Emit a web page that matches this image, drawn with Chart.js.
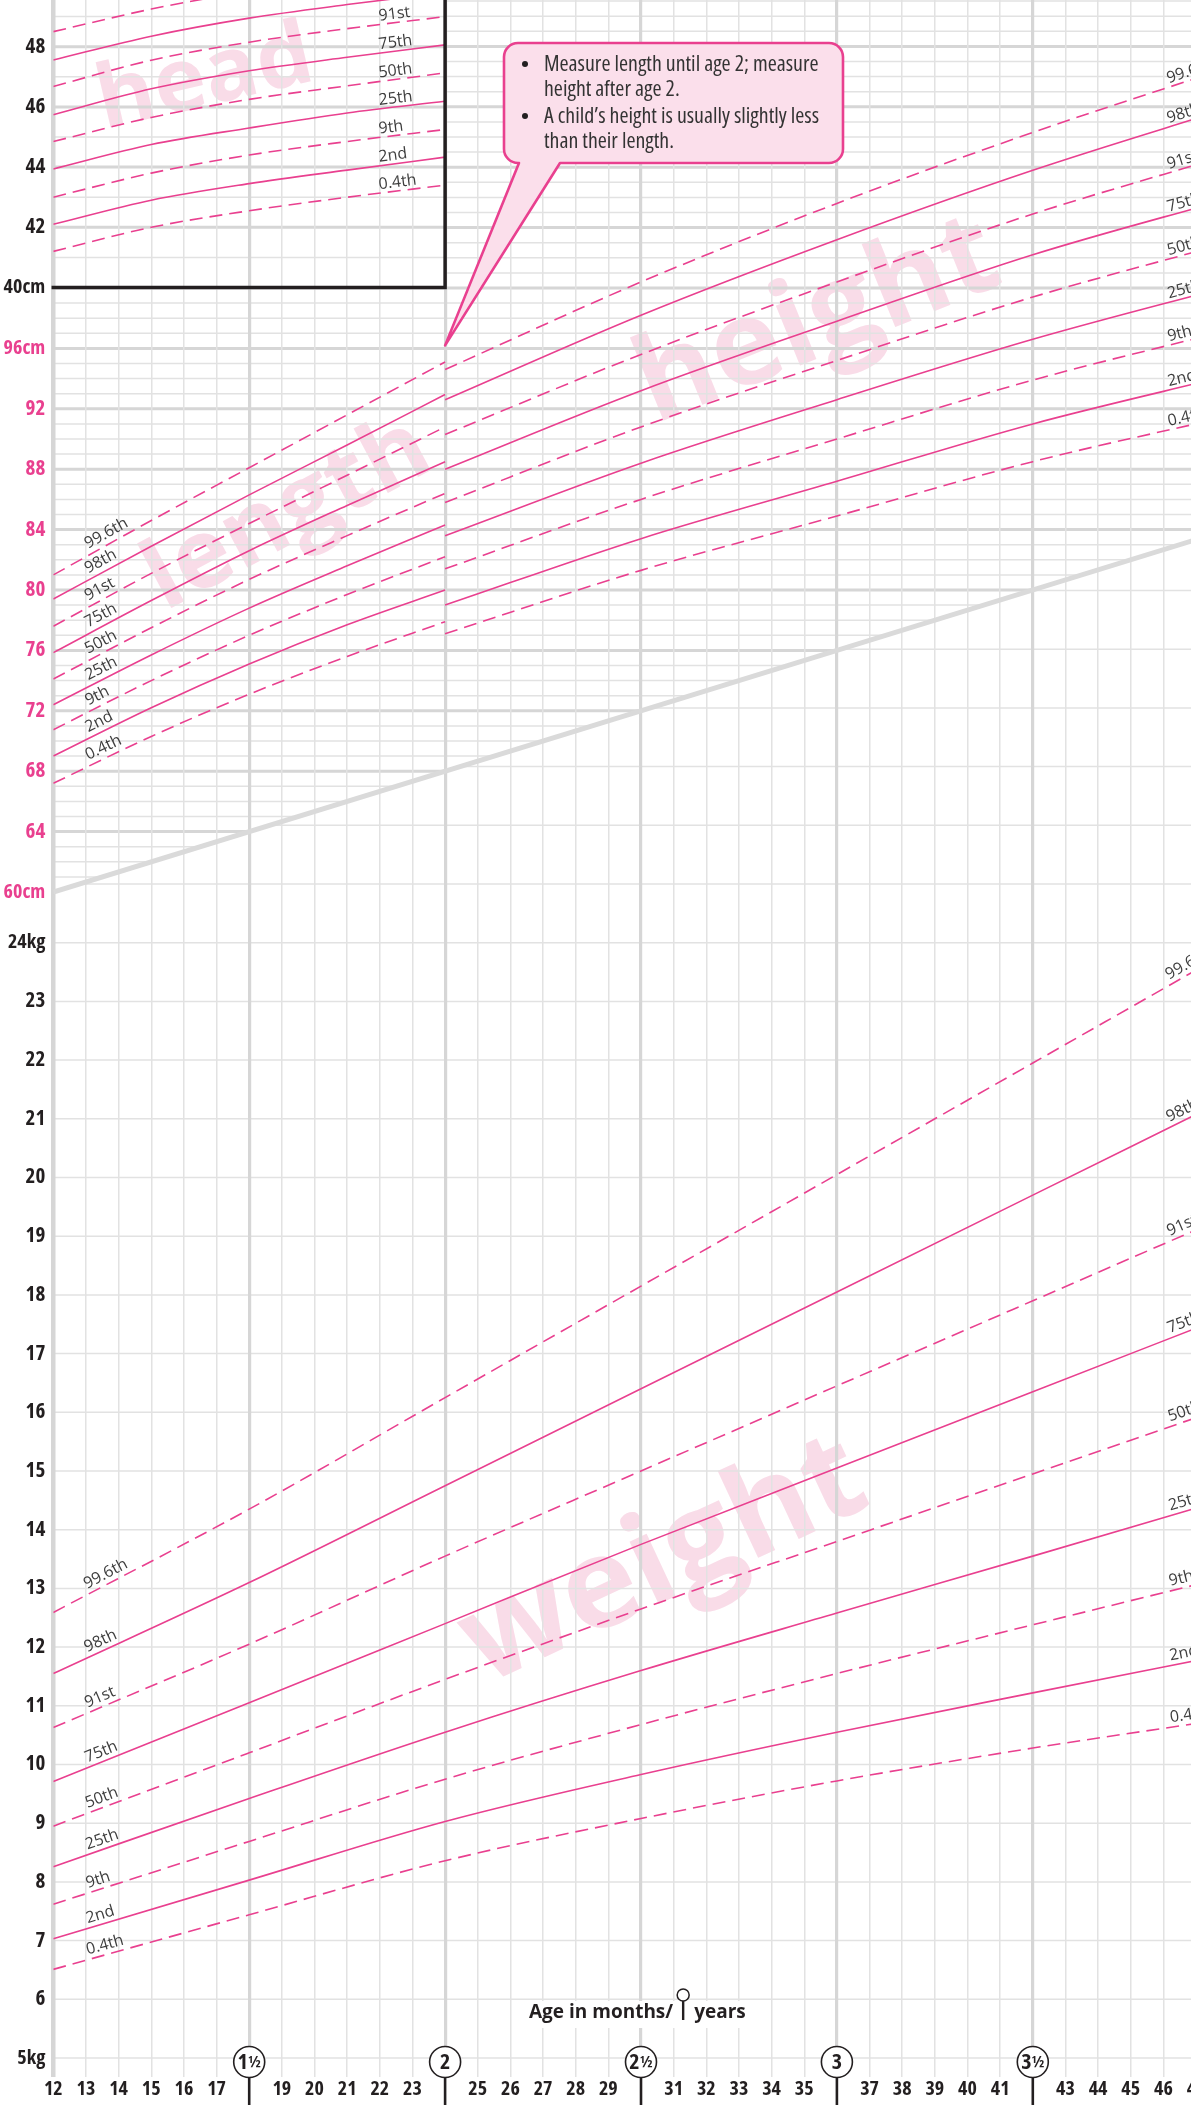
<!DOCTYPE html>
<html>
<head>
<meta charset="utf-8">
<script src="https://cdn.jsdelivr.net/npm/chart.js@4.4.1/dist/chart.umd.min.js"></script>
<style>
  html, body { margin: 0; padding: 0; background: #fff; overflow: hidden; }
  body { width: 1191px; height: 2105px; }
  canvas { display: block; }
</style>
</head>
<body>
<canvas id="growth" width="1240" height="2105"></canvas>
<script>
// centile curves, girls 1-4 years
const centileNames = ['0.4th', '2nd', '9th', '25th', '50th', '75th', '91st', '98th', '99.6th'];
const centileDashed = [true, false, true, false, true, false, true, false, true];

// head circumference, cm
const headMonths = [12, 15, 18, 21, 24];
const headCm = [
  [41.2, 42.0, 42.55, 43.0, 43.4],
  [42.1, 42.9, 43.45, 43.9, 44.33],
  [43.0, 43.8, 44.4, 44.85, 45.25],
  [43.94, 44.75, 45.3, 45.8, 46.19],
  [44.85, 45.65, 46.25, 46.7, 47.13],
  [45.74, 46.6, 47.2, 47.65, 48.06],
  [46.68, 47.55, 48.15, 48.6, 49.0],
  [47.56, 48.35, 48.95, 49.4, 49.8],
  [48.5, 49.25, 49.85, 50.4, 50.9]
];

// length (lying), cm
const lengthMonths = [12, 15, 18, 21, 24];
const lengthCm = [
  [67.2, 70.3, 73.1, 75.6, 77.9],
  [69.0, 72.2, 75.1, 77.7, 80.0],
  [70.75, 74.0, 77.0, 79.7, 82.2],
  [72.4, 75.7, 78.8, 81.6, 84.3],
  [74.1, 77.5, 80.7, 83.6, 86.4],
  [75.85, 79.3, 82.6, 85.6, 88.5],
  [77.6, 81.1, 84.4, 87.6, 90.8],
  [79.4, 82.9, 86.3, 89.6, 92.95],
  [81.0, 84.6, 88.1, 91.6, 95.1]
];

// height (standing), cm
const heightMonths = [24, 30, 36, 42, 48];
const heightCm = [
  [77.1, 81.3, 84.9, 88.5, 91.5],
  [79.0, 83.4, 87.2, 91.0, 94.2],
  [81.4, 86.0, 90.0, 93.9, 97.2],
  [83.6, 88.4, 92.6, 96.6, 100.1],
  [85.8, 90.8, 95.2, 99.4, 103.0],
  [88.0, 93.2, 97.8, 102.2, 105.9],
  [90.3, 95.6, 100.4, 104.9, 108.8],
  [92.6, 98.2, 103.2, 107.8, 111.9],
  [94.6, 100.4, 105.6, 110.3, 114.6]
];

// weight, kg
const weightMonths = [12, 18, 24, 30, 36, 42, 48];
const weightKg = [
  [6.51, 7.44, 8.36, 9.08, 9.72, 10.28, 10.78],
  [7.03, 8.03, 9.03, 9.83, 10.55, 11.22, 11.88],
  [7.62, 8.69, 9.75, 10.68, 11.55, 12.38, 13.2],
  [8.26, 9.42, 10.55, 11.6, 12.58, 13.55, 14.53],
  [8.95, 10.2, 11.45, 12.65, 13.8, 14.95, 16.1],
  [9.71, 11.05, 12.4, 13.75, 15.05, 16.35, 17.65],
  [10.63, 12.05, 13.55, 15.0, 16.45, 17.9, 19.35],
  [11.55, 13.1, 14.75, 16.4, 18.05, 19.7, 21.35],
  [12.59, 14.35, 16.25, 18.15, 20.05, 21.95, 23.85]
];

// grey line that splits the length grid from the weight grid
const splitMonths = [12, 48];
const splitCm = [60, 84];

// left axis labels
const weightTicks = [5, 6, 7, 8, 9, 10, 11, 12, 13, 14, 15, 16, 17, 18, 19, 20, 21, 22, 23, 24];
const lengthTicks = [60, 64, 68, 72, 76, 80, 84, 88, 92, 96];
const headTicks = [40, 42, 44, 46, 48];

// year markers on the age axis
const yearMonths = [18, 24, 30, 36, 42];
const yearWhole = ['1', '2', '2', '3', '3'];
const yearHalf = [true, false, true, false, true];

// ---- layout & style ----
const PINK = '#e9408f';
const INK = '#231f20';
const GRID = '#e2e2e2';
const GRID_DARK = '#d6d6d6';
const LABEL = '#3d3d3d';
const WATER = '#f9dce8';

const plotTop = 0;
const plotBottom = 2077;
function axisRange(value, px, pxPerUnit) {
  return { min: value - (plotBottom - px) / pxPerUnit, max: value + (px - plotTop) / pxPerUnit };
}
const wRange = axisRange(5, 2058, 58.7);
const lRange = axisRange(60, 892, 15.1);
const hRange = axisRange(40, 287.5, 30.1);

// pick a condensed face that is really installed
const probe = document.createElement('canvas').getContext('2d');
function textWidth(font, s) { probe.font = '10px monospace'; probe.font = font; return probe.measureText(s).width; }
function installed(family) {
  const s = 'abcdefghij 0123456789';
  return Math.abs(textWidth('40px monospace', s) - textWidth('40px ' + family + ', monospace', s)) > 0.5;
}
const sample = '40cm 0123456789';
let condFamily = '"DejaVu Sans Condensed"', tickStretch = '', textStretch = '';
if (installed('"Liberation Sans Narrow"')) {
  condFamily = '"Liberation Sans Narrow"';
} else {
  for (const f of ['"Noto Sans"', '"Open Sans"', '"DejaVu Sans"']) {
    const n = textWidth('bold 40px ' + f, sample);
    const c = textWidth('bold condensed 40px ' + f, sample);
    if (c < n * 0.95) {
      condFamily = f;
      textStretch = 'condensed ';
      tickStretch = 'condensed ';
      const e = textWidth('bold extra-condensed 40px ' + f, sample);
      if (e < c * 0.95) tickStretch = 'extra-condensed ';
      break;
    }
  }
}
const TICK_WEIGHT = 'bold ' + tickStretch.trim();
const unitWidth = textWidth(TICK_WEIGHT + ' 20px ' + condFamily, '40cm');
const UNIT_SIZE = Math.max(15, Math.min(21, Math.floor(20 * 42 / unitWidth)));
const NUM_SIZE = 21;

function toWeight(v, r) {
  return wRange.min + (v - r.min) / (r.max - r.min) * (wRange.max - wRange.min);
}
const leftTicks = [];
weightTicks.forEach((v, i) => leftTicks.push({
  value: v, color: INK,
  text: i === 0 || i === weightTicks.length - 1 ? v + 'kg' : String(v)
}));
lengthTicks.forEach((v, i) => leftTicks.push({
  value: toWeight(v, lRange), color: PINK,
  text: i === 0 || i === lengthTicks.length - 1 ? v + 'cm' : String(v)
}));
headTicks.forEach((v, i) => leftTicks.push({
  value: toWeight(v, hRange), color: INK,
  text: i === 0 ? v + 'cm' : String(v)
}));
leftTicks.sort((a, b) => a.value - b.value);

const datasets = [];
function addCurves(prefix, months, rows, axis) {
  rows.forEach((row, i) => {
    datasets.push({
      label: prefix + ' ' + centileNames[i],
      data: months.map((m, j) => ({ x: m, y: row[j] })),
      yAxisID: axis,
      borderColor: PINK,
      borderWidth: 1.6,
      borderDash: centileDashed[i] ? [13, 7] : [],
      pointRadius: 0,
      fill: false,
      cubicInterpolationMode: 'monotone'
    });
  });
}
addCurves('head', headMonths, headCm, 'yH');
addCurves('length', lengthMonths, lengthCm, 'yL');
addCurves('height', heightMonths, heightCm, 'yL');
addCurves('weight', weightMonths, weightKg, 'yW');
datasets.push({
  label: 'split',
  data: splitMonths.map((m, j) => ({ x: m, y: splitCm[j] })),
  yAxisID: 'yL',
  borderColor: '#dadada',
  borderWidth: 5,
  pointRadius: 0
});

function valueAt(months, values, m) {
  if (m <= months[0]) return values[0];
  for (let i = 0; i < months.length - 1; i++) {
    if (m <= months[i + 1]) {
      const t = (m - months[i]) / (months[i + 1] - months[i]);
      return values[i] + t * (values[i + 1] - values[i]);
    }
  }
  return values[values.length - 1];
}

function centileLabels(ctx, xs, ys, months, rows, m, lift) {
  rows.forEach((row, i) => {
    const px = xs.getPixelForValue(m);
    const py = ys.getPixelForValue(valueAt(months, row, m));
    const qx = xs.getPixelForValue(m + 1);
    const qy = ys.getPixelForValue(valueAt(months, row, m + 1));
    ctx.save();
    ctx.translate(px, py);
    ctx.rotate(Math.atan2(qy - py, qx - px));
    ctx.fillText(centileNames[i], 0, -lift);
    ctx.restore();
  });
}

function hline(ctx, a, y, thick) {
  ctx.strokeStyle = thick ? GRID_DARK : GRID;
  ctx.lineWidth = thick ? 3 : 1.5;
  ctx.beginPath();
  ctx.moveTo(a.left, y);
  ctx.lineTo(a.right, y);
  ctx.stroke();
}

function watermark(ctx, text, cx, cy, deg, size) {
  ctx.save();
  ctx.translate(cx, cy);
  ctx.rotate(deg * Math.PI / 180);
  ctx.font = 'bold ' + size + 'px "Open Sans", sans-serif';
  ctx.fillStyle = WATER;
  ctx.textAlign = 'center';
  ctx.textBaseline = 'middle';
  ctx.fillText(text, 0, 0);
  ctx.restore();
}

function callout(ctx, tipX, tipY) {
  const x0 = 504, y0 = 43, x1 = 843, y1 = 163, r = 14;
  const b0 = 519, b1 = 560;
  ctx.save();
  ctx.beginPath();
  ctx.moveTo(x0 + r, y0);
  ctx.arcTo(x1, y0, x1, y1, r);
  ctx.arcTo(x1, y1, x0, y1, r);
  ctx.lineTo(b1, y1);
  ctx.lineTo(tipX, tipY);
  ctx.lineTo(b0, y1);
  ctx.arcTo(x0, y1, x0, y0, r);
  ctx.arcTo(x0, y0, x1, y0, r);
  ctx.closePath();
  ctx.fillStyle = '#fbdfeb';
  ctx.fill();
  ctx.strokeStyle = PINK;
  ctx.lineWidth = 2.6;
  ctx.lineJoin = 'round';
  ctx.stroke();

  ctx.fillStyle = INK;
  ctx.beginPath(); ctx.arc(525, 64, 3, 0, Math.PI * 2); ctx.fill();
  ctx.beginPath(); ctx.arc(525, 116, 3, 0, Math.PI * 2); ctx.fill();

  const lines = [
    ['Measure length until age 2; measure', 65],
    ['height after age 2.', 90],
    ['A child’s height is usually slightly less', 117],
    ['than their length.', 142]
  ];
  const base = textStretch + '20px ' + condFamily;
  const size = Math.min(23, 20 * 275 / textWidth(base, lines[0][0]));
  ctx.fillStyle = '#333';
  ctx.font = textStretch + size.toFixed(1) + 'px ' + condFamily;
  ctx.textAlign = 'left';
  ctx.textBaseline = 'middle';
  lines.forEach(l => ctx.fillText(l[0], 544, l[1]));
  ctx.restore();
}

const decor = {
  id: 'decor',
  beforeDraw(chart) {
    const { ctx, chartArea: a } = chart;
    const { x, yW, yL, yH } = chart.scales;
    ctx.save();
    ctx.fillStyle = '#fff';
    ctx.fillRect(0, 0, chart.width, chart.height);

    watermark(ctx, 'length', 288, 515, -28, 96);
    watermark(ctx, 'height', 818, 322, -22, 118);
    watermark(ctx, 'weight', 664, 1562, -25, 126);

    const sx0 = x.getPixelForValue(splitMonths[0]), sy0 = yL.getPixelForValue(splitCm[0]);
    const sx1 = x.getPixelForValue(splitMonths[1]), sy1 = yL.getPixelForValue(splitCm[1]);

    // length / height grid above the grey line
    ctx.save();
    ctx.beginPath();
    ctx.moveTo(a.left, a.top);
    ctx.lineTo(a.right, a.top);
    ctx.lineTo(sx1, sy1);
    ctx.lineTo(sx0, sy0);
    ctx.closePath();
    ctx.clip();
    for (let v = 60; v <= 120; v++) hline(ctx, a, yL.getPixelForValue(v), v % 4 === 0);
    ctx.restore();

    // weight grid below it
    ctx.save();
    ctx.beginPath();
    ctx.moveTo(sx0, sy0);
    ctx.lineTo(sx1, sy1);
    ctx.lineTo(a.right, a.bottom);
    ctx.lineTo(a.left, a.bottom);
    ctx.closePath();
    ctx.clip();
    for (let v = 5; v <= 32; v++) hline(ctx, a, yW.getPixelForValue(v), false);
    ctx.restore();

    // head circumference box
    const bx = x.getPixelForValue(24), by = yH.getPixelForValue(40);
    ctx.fillStyle = '#fff';
    ctx.fillRect(a.left, a.top, bx - a.left, by - a.top);
    ctx.save();
    ctx.beginPath();
    ctx.rect(a.left, a.top, bx - a.left, by - a.top);
    ctx.clip();
    watermark(ctx, 'head', 205, 80, -13, 88);
    for (let v = 40; v <= 50; v++) hline(ctx, a, yH.getPixelForValue(v), v % 2 === 0);
    ctx.restore();
    ctx.restore();
  },
  afterDatasetsDraw(chart) {
    const { ctx } = chart;
    const { x, yW, yL, yH } = chart.scales;
    ctx.save();
    ctx.fillStyle = LABEL;
    ctx.font = '16px "Open Sans", sans-serif';
    ctx.textAlign = 'left';
    ctx.textBaseline = 'alphabetic';
    centileLabels(ctx, x, yH, headMonths, headCm, 22.0, 4);
    centileLabels(ctx, x, yL, lengthMonths, lengthCm, 13.15, 6);
    centileLabels(ctx, x, yL, heightMonths, heightCm, 46.2, 4);
    centileLabels(ctx, x, yW, weightMonths, weightKg, 13.1, 5);
    centileLabels(ctx, x, yW, weightMonths, weightKg, 46.25, 5);
    ctx.restore();
  },
  afterDraw(chart) {
    const { ctx, chartArea: a } = chart;
    const { x, yL, yH } = chart.scales;
    ctx.save();

    // head box border
    const bx = x.getPixelForValue(24), by = yH.getPixelForValue(40);
    ctx.strokeStyle = INK;
    ctx.lineWidth = 3.5;
    ctx.lineCap = 'square';
    ctx.beginPath();
    ctx.moveTo(a.left, by);
    ctx.lineTo(bx, by);
    ctx.lineTo(bx, a.top - 4);
    ctx.stroke();

    callout(ctx, x.getPixelForValue(24), yL.getPixelForValue(96.2));

    // year markers
    const cy = a.bottom - 15;
    yearMonths.forEach((m, i) => {
      const cx = x.getPixelForValue(m);
      ctx.strokeStyle = INK;
      ctx.lineWidth = 2.6;
      ctx.lineCap = 'butt';
      ctx.beginPath();
      ctx.moveTo(cx, a.bottom);
      ctx.lineTo(cx, chart.height);
      ctx.stroke();
      ctx.beginPath();
      ctx.arc(cx, cy, 15.5, 0, Math.PI * 2);
      ctx.fillStyle = '#fff';
      ctx.fill();
      ctx.lineWidth = 1.6;
      ctx.stroke();
      ctx.fillStyle = INK;
      ctx.textBaseline = 'middle';
      const big = TICK_WEIGHT + ' 22px ' + condFamily;
      const small = TICK_WEIGHT + ' 16px ' + condFamily;
      ctx.font = big;
      const wb = ctx.measureText(yearWhole[i]).width;
      ctx.font = small;
      const ws = yearHalf[i] ? ctx.measureText('½').width : 0;
      const left = cx - (wb + ws) / 2;
      ctx.textAlign = 'left';
      ctx.font = big;
      ctx.fillText(yearWhole[i], left, cy + 1);
      if (yearHalf[i]) {
        ctx.font = small;
        ctx.fillText('½', left + wb, cy);
      }
    });

    // axis title
    ctx.font = 'bold 19px "Open Sans", sans-serif';
    const t1 = 'Age in months/', t2 = 'years';
    const w1 = ctx.measureText(t1).width, w2 = ctx.measureText(t2).width;
    const tx = 529, ty = 2013;
    const ix = tx + w1 + 10;
    ctx.fillStyle = '#fff';
    ctx.fillRect(tx - 4, 2001, w1 + w2 + 30, 27);
    ctx.fillStyle = INK;
    ctx.textAlign = 'left';
    ctx.textBaseline = 'middle';
    ctx.fillText(t1, tx, ty);
    ctx.fillText(t2, ix + 11, ty);
    ctx.strokeStyle = INK;
    ctx.lineWidth = 1.5;
    ctx.beginPath();
    ctx.arc(ix, 1995, 6, 0, Math.PI * 2);
    ctx.fillStyle = '#fff';
    ctx.fill();
    ctx.stroke();
    ctx.lineWidth = 2.4;
    ctx.beginPath();
    ctx.moveTo(ix, 2001);
    ctx.lineTo(ix, 2020);
    ctx.stroke();
    ctx.restore();
  }
};

new Chart(document.getElementById('growth'), {
  type: 'line',
  data: { datasets },
  options: {
    responsive: false,
    devicePixelRatio: 1,
    animation: false,
    events: [],
    layout: { padding: { left: 0, top: 0, right: 11.3, bottom: 0 } },
    plugins: { legend: { display: false }, tooltip: { enabled: false } },
    scales: {
      x: {
        type: 'linear',
        min: 12,
        max: 48,
        afterFit(s) { s.height = 28; s.paddingLeft = 0; s.paddingRight = 0; },
        border: { display: false },
        grid: {
          drawTicks: false,
          color: c => (c.tick && c.tick.value % 6 === 0) ? GRID_DARK : GRID,
          lineWidth: c => {
            const v = c.tick ? c.tick.value : 0;
            return v === 12 ? 4.5 : (v % 6 === 0 ? 3.2 : 1.5);
          }
        },
        ticks: {
          stepSize: 1,
          autoSkip: false,
          maxRotation: 0,
          padding: 0,
          color: INK,
          font: { family: condFamily, size: 20, weight: TICK_WEIGHT },
          callback: v => yearMonths.includes(v) ? '' : String(v)
        }
      },
      yW: {
        type: 'linear',
        position: 'left',
        bounds: 'data',
        min: wRange.min,
        max: wRange.max,
        afterBuildTicks(s) { s.ticks = leftTicks.map(t => ({ value: t.value })); },
        afterFit(s) { s.width = 53.3; s.paddingTop = 0; s.paddingBottom = 0; },
        grid: { display: false, drawTicks: false },
        border: { display: false },
        ticks: {
          autoSkip: false,
          padding: 8,
          color: c => leftTicks[c.index] ? leftTicks[c.index].color : INK,
          font: c => {
            const t = leftTicks[c.index];
            const unit = t && /[a-z]/.test(t.text);
            return { family: condFamily, size: unit ? UNIT_SIZE : NUM_SIZE, weight: TICK_WEIGHT };
          },
          callback: (v, i) => leftTicks[i] ? leftTicks[i].text : ''
        }
      },
      yL: { type: 'linear', display: false, bounds: 'data', min: lRange.min, max: lRange.max },
      yH: { type: 'linear', display: false, bounds: 'data', min: hRange.min, max: hRange.max }
    }
  },
  plugins: [decor]
});
</script>
</body>
</html>
